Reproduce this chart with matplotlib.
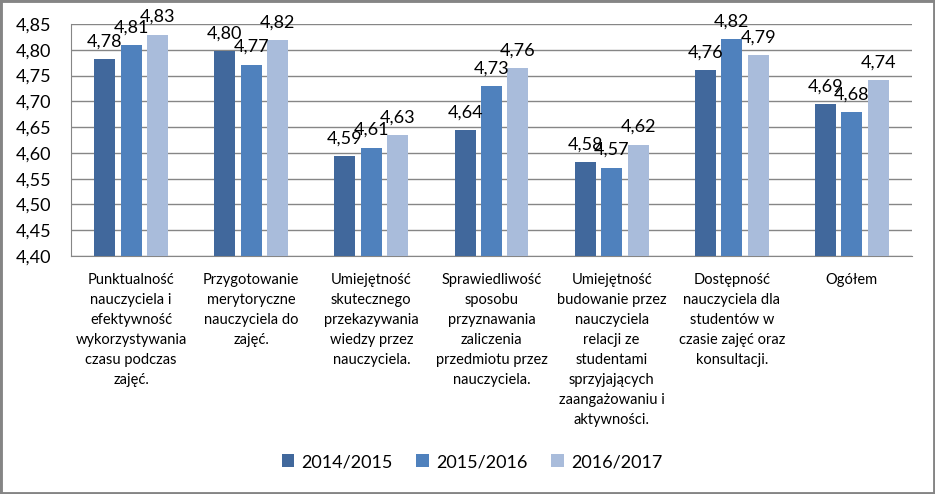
import matplotlib.pyplot as plt
import numpy as np
from matplotlib.patches import Rectangle

plt.rcParams['font.family'] = ['Lato', 'DejaVu Sans']

categories = [
    "Punktualność\nnauczyciela i\nefektywność\nwykorzystywania\nczasu podczas\nzajęć.",
    "Przygotowanie\nmerytoryczne\nnauczyciela do\nzajęć.",
    "Umiejętność\nskutecznego\nprzekazywania\nwiedzy przez\nnauczyciela.",
    "Sprawiedliwość\nsposobu\nprzyznawania\nzaliczenia\nprzedmiotu przez\nnauczyciela.",
    "Umiejętność\nbudowanie przez\nnauczyciela\nrelacji ze\nstudentami\nsprzyjających\nzaangażowaniu i\naktywności.",
    "Dostępność\nnauczyciela dla\nstudentów w\nczasie zajęć oraz\nkonsultacji.",
    "Ogółem",
]
series_names = ["2014/2015", "2015/2016", "2016/2017"]
v_2014 = [4.782, 4.797, 4.593, 4.644, 4.582, 4.760, 4.694]
v_2015 = [4.809, 4.771, 4.610, 4.729, 4.571, 4.820, 4.679]
v_2016 = [4.829, 4.818, 4.634, 4.764, 4.616, 4.790, 4.741]
colors = ["#41689C", "#4F81BD", "#A9BCDB"]

W, H = 935, 494
fig = plt.figure(figsize=(W / 100, H / 100), dpi=100)
ax = fig.add_axes([71 / W, (H - 256) / H, 841 / W, 232 / H])

x = np.arange(len(categories))
step = 0.22
width = 0.175
for i, (vals, name) in enumerate(zip([v_2014, v_2015, v_2016], series_names)):
    xs = x + (i - 1) * step
    bars = ax.bar(xs, vals, width, color=colors[i], label=name, zorder=3)
    for xi, v in zip(xs, vals):
        ax.annotate(f"{v:.2f}".replace(".", ","), (xi, v), xytext=(0, 7),
                    textcoords="offset points", ha="center", va="bottom",
                    fontsize=13, color="#000000", zorder=4)

ax.set_xlim(-0.5, len(categories) - 0.5)
ax.set_ylim(4.40, 4.85)
yt = np.arange(4.40, 4.851, 0.05)
ax.set_yticks(yt)
ax.set_yticklabels([f"{t:.2f}".replace(".", ",") for t in yt], fontsize=13)
ax.set_xticks(x)
ax.set_xticklabels(categories, fontsize=10.5, va="top")
for lab in ax.get_xticklabels():
    lab.set_linespacing(1.55)
ax.tick_params(axis="x", length=0, pad=12)
ax.tick_params(axis="y", length=0, pad=14)
ax.grid(axis="y", color="#868686", linewidth=1, zorder=0)
for s in ["top", "right"]:
    ax.spines[s].set_visible(False)
ax.spines["left"].set_color("#868686")
ax.spines["bottom"].set_color("#868686")

fig.legend(loc="center", bbox_to_anchor=(472 / W, 1 - 462 / H), ncol=3,
           frameon=False, fontsize=13, handlelength=0.7, handleheight=0.7,
           handletextpad=0.4, columnspacing=1.3)

fig.add_artist(Rectangle((0, 0), 1, 1, transform=fig.transFigure,
                         fill=False, edgecolor="#858585", linewidth=3.5))

fig.savefig("out.png", dpi=100)
